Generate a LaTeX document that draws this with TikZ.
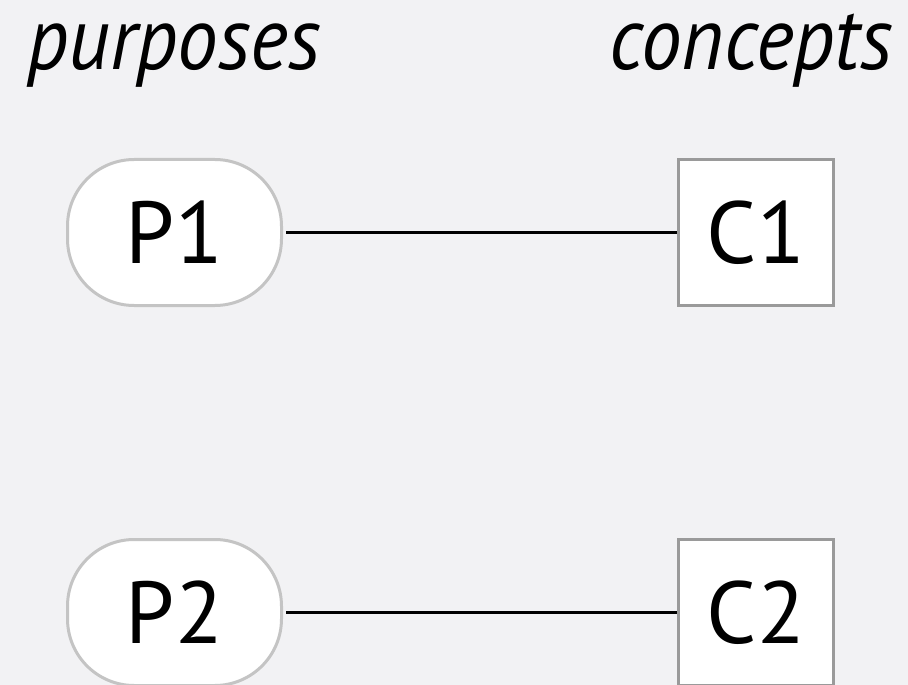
\documentclass[tikz,border=0pt]{standalone}
\usepackage{fontspec}
\setmainfont{PT Sans}
\newfontfamily\headfont[FakeStretch=0.91]{PT Sans}
\usetikzlibrary{positioning}

\definecolor{bggray}{HTML}{F2F2F4}
\definecolor{purpline}{HTML}{C4C4C4}
\definecolor{conline}{HTML}{9A9A9A}

\begin{document}
\begin{tikzpicture}[x=0.75pt,y=-0.75pt,
  purpose/.style={draw=purpline,fill=white,line width=2.25pt,rounded corners=50pt,
    minimum width=160.5pt,minimum height=109.5pt,inner sep=0pt,font=\fontsize{66}{70}\selectfont},
  concept/.style={draw=conline,fill=white,line width=2.25pt,
    minimum width=116.25pt,minimum height=109.5pt,inner sep=0pt,font=\fontsize{66}{70}\selectfont},
  heading/.style={inner sep=0pt,font=\headfont\fontsize{67}{70}\selectfont\itshape},
  link/.style={line width=2.25pt}]
  \fill[bggray] (0,0) rectangle (908,685);
  \useasboundingbox (0,0) rectangle (908,685);

  \node[heading,anchor=base west] (purp) at (27,70) {purposes};
  \node[heading,anchor=base east] (conc) at (893,70) {concepts};

  \node[purpose] (p1) at (174.5,232.5) {P1};
  \node[concept] (c1) at (756,232.5) {C1};
  \node[purpose] (p2) at (174.5,612.5) {P2};
  \node[concept] (c2) at (756,612.5) {C2};

  \draw[link] (p1.east) ++(3,0) -- (c1.west);
  \draw[link] (p2.east) ++(3,0) -- (c2.west);
\end{tikzpicture}
\end{document}
